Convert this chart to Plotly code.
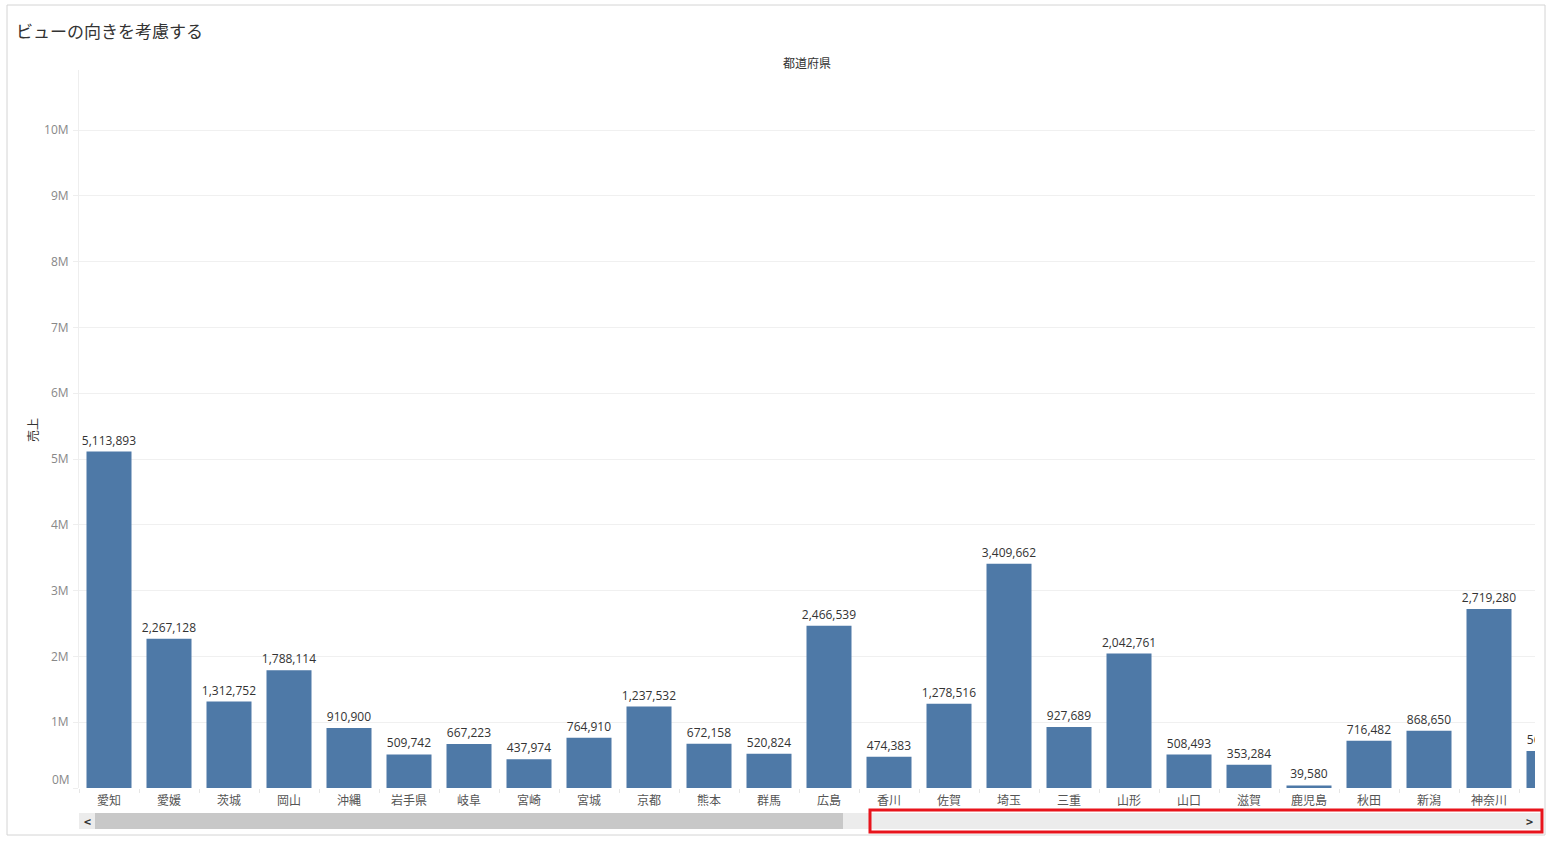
import plotly.graph_objects as go

prefectures = ["愛知", "愛媛", "茨城", "岡山", "沖縄", "岩手県", "岐阜", "宮崎", "宮城", "京都",
               "熊本", "群馬", "広島", "香川", "佐賀", "埼玉", "三重", "山形", "山口", "滋賀",
               "鹿児島", "秋田", "新潟", "神奈川", "青森"]
sales = [5113893, 2267128, 1312752, 1788114, 910900, 509742, 667223, 437974, 764910, 1237532,
         672158, 520824, 2466539, 474383, 1278516, 3409662, 927689, 2042761, 508493, 353284,
         39580, 716482, 868650, 2719280, 563000]
y_tick_vals = [0, 1e6, 2e6, 3e6, 4e6, 5e6, 6e6, 7e6, 8e6, 9e6, 10e6]
y_tick_text = ["0M", "1M", "2M", "3M", "4M", "5M", "6M", "7M", "8M", "9M", "10M"]

W, H = 1557, 842
L, R, T, B = 79, 1535, 70, 788
FONT = "Noto Sans CJK JP"
NUMFONT = "Open Sans, Noto Sans CJK JP"


def px(x):
    return (x - L) / (R - L)


def py(y):
    return (B - y) / (B - T)


fig = go.Figure()
fig.add_trace(go.Bar(
    x=list(range(len(prefectures))),
    y=sales,
    width=0.75,
    marker=dict(color="#4e79a7", line=dict(width=0)),
    texttemplate="%{y:,}",
    textposition="outside",
    constraintext="none",
    textfont=dict(size=12, color="#333333", family=NUMFONT),
    cliponaxis=True,
    hovertemplate="%{customdata}: %{y:,}<extra></extra>",
    customdata=prefectures,
))

shapes = [
    # outer border
    dict(type="rect", xref="paper", yref="paper", x0=px(7), x1=px(1545), y0=py(835), y1=py(5),
         line=dict(color="#d4d4d4", width=1), fillcolor="rgba(0,0,0,0)", layer="below"),
    # scrollbar track
    dict(type="rect", xref="paper", yref="paper", x0=px(79), x1=px(1543), y0=py(829), y1=py(813),
         line=dict(width=0), fillcolor="#ececec"),
    # scrollbar thumb
    dict(type="rect", xref="paper", yref="paper", x0=px(95), x1=px(843), y0=py(829), y1=py(813),
         line=dict(width=0), fillcolor="#c8c8c8"),
    # red highlight
    dict(type="rect", xref="paper", yref="paper", x0=px(870), x1=px(1542), y0=py(832), y1=py(810),
         line=dict(color="#e8141c", width=3), fillcolor="rgba(0,0,0,0)"),
]

annotations = [
    dict(text="ビューの向きを考慮する", xref="paper", yref="paper", x=px(14), y=py(31),
         xanchor="left", yanchor="middle", showarrow=False,
         font=dict(size=17, color="#333333", family=FONT)),
    dict(text="都道府県", xref="paper", yref="paper", x=0.5, y=py(63),
         xanchor="center", yanchor="middle", showarrow=False,
         font=dict(size=12, color="#333333", family=FONT)),
    dict(text="売上", xref="paper", yref="paper", x=px(32), y=py(430), textangle=-90,
         xanchor="center", yanchor="middle", showarrow=False,
         font=dict(size=12, color="#333333", family=FONT)),
    # zero label is nudged up like in the reference
    dict(text=y_tick_text[0], xref="paper", yref="paper", x=px(72), y=py(779),
         xanchor="right", yanchor="middle", showarrow=False,
         font=dict(size=12, color="#888888", family=NUMFONT)),
    dict(text="<b>&lt;</b>", xref="paper", yref="paper", x=px(87), y=py(821),
         xanchor="center", yanchor="middle", showarrow=False,
         font=dict(size=12, color="#333333", family=FONT)),
    dict(text="<b>&gt;</b>", xref="paper", yref="paper", x=px(1529), y=py(821),
         xanchor="center", yanchor="middle", showarrow=False,
         font=dict(size=12, color="#333333", family=FONT)),
]

fig.update_layout(
    width=W, height=H,
    margin=dict(l=L, r=W - R, t=T, b=H - B, pad=0),
    paper_bgcolor="white", plot_bgcolor="white",
    font=dict(family=FONT),
    showlegend=False,
    bargap=0.25,
    shapes=shapes,
    annotations=annotations,
    xaxis=dict(
        range=[-0.5, (R - 109) / 60],
        tickmode="array", tickvals=list(range(len(prefectures))), ticktext=prefectures,
        tickfont=dict(size=12, color="#555555", family=FONT),
        showgrid=False, zeroline=False, showline=False, ticks="",
        ticklabelstandoff=4,
        minor=dict(tickmode="linear", tick0=0.5, dtick=1, ticks="outside", ticklen=4,
                   tickcolor="#e6e6e6", showgrid=False),
        fixedrange=True,
    ),
    yaxis=dict(
        range=[0, (B - T) / ((B - 130) / 10e6)],
        tickmode="array", tickvals=y_tick_vals, ticktext=[""] + y_tick_text[1:],
        tickfont=dict(size=12, color="#888888", family=NUMFONT),
        showgrid=True, gridcolor="#f0f0f0", gridwidth=1,
        zeroline=False, showline=True, linecolor="#eeeeee", linewidth=1,
        ticks="outside", ticklen=5, tickcolor="#eeeeee", ticklabelstandoff=2,
        fixedrange=True,
    ),
)

fig.write_html("out.html", config={"displayModeBar": False},
               post_script="document.body.style.margin='0';document.body.style.padding='0';")
